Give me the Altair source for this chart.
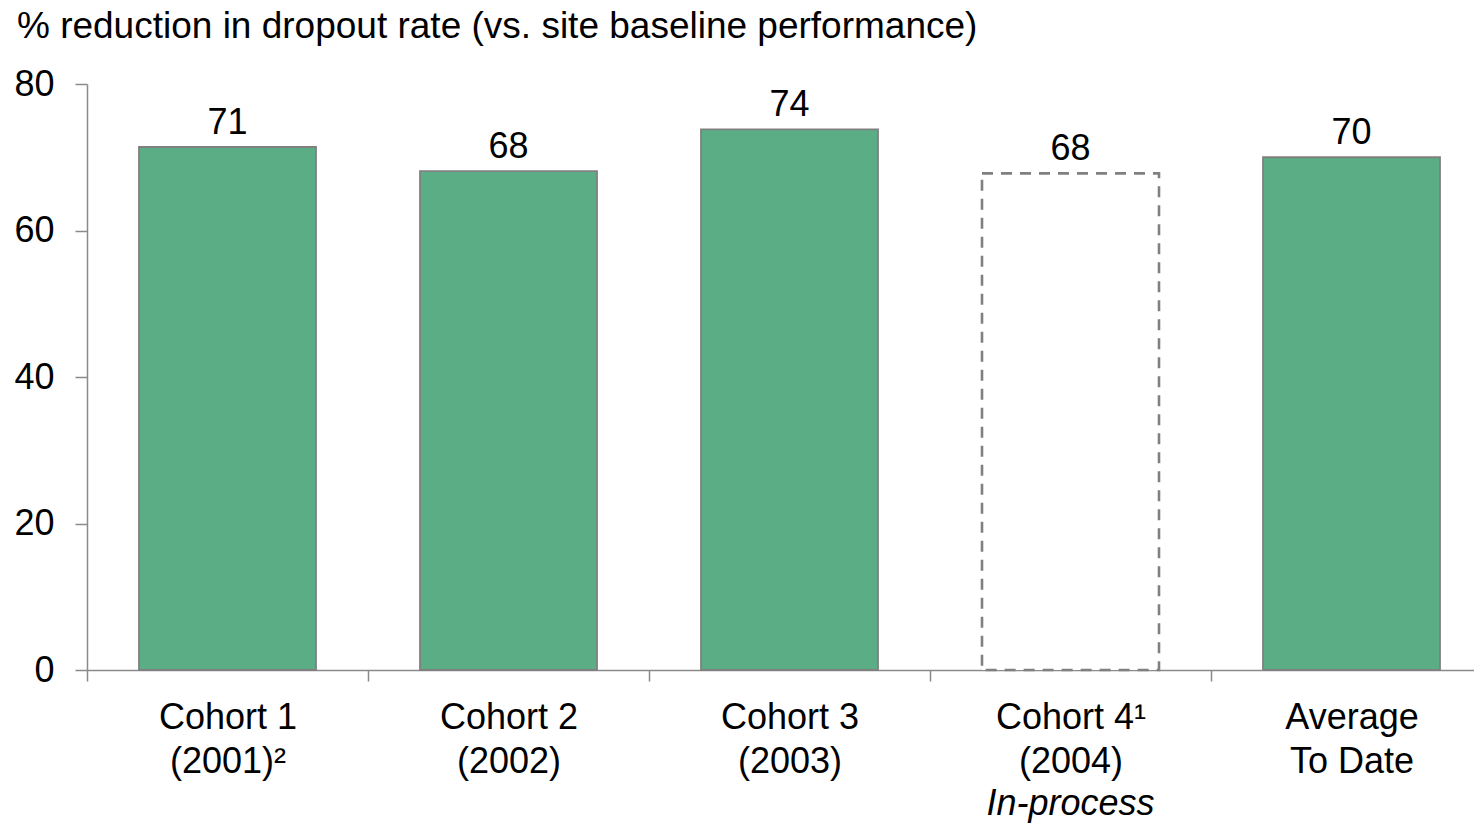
import altair as alt
import pandas as pd

categories = ["Cohort 1|(2001)²", "Cohort 2|(2002)", "Cohort 3|(2003)", "Cohort 4¹|(2004)", "Average|To Date"]
values = [71.4, 68.1, 73.8, 67.8, 70.0]
status = ["done", "done", "done", "in-process", "done"]
notes = ["", "", "", "In-process", ""]

df = pd.DataFrame({"cat": categories, "value": values, "status": status, "note": notes})

FONT = "Liberation Sans"
GRAY = "#8a8a8a"

x_enc = alt.X(
    "cat:N", sort=categories, title=None,
    scale=alt.Scale(range=[0, 1405], paddingInner=0, paddingOuter=0),
    axis=alt.Axis(
        labelExpr="split(datum.label, '|')", labelAngle=0, labelFontSize=36,
        labelLineHeight=44, labelColor="black", labelPadding=19, tickBand="extent",
        tickSize=11, tickColor=GRAY, domainColor=GRAY, domainWidth=1.5, tickWidth=1.5,
        labelFont=FONT,
    ),
)
y_enc = alt.Y(
    "value:Q", title=None,
    scale=alt.Scale(domain=[0, 80], nice=False),
    axis=alt.Axis(
        values=[0, 20, 40, 60, 80], grid=False, labelFontSize=36, labelColor="black",
        labelPadding=21, tickSize=12, tickColor=GRAY, domainColor=GRAY, domainWidth=1.5,
        tickWidth=1.5, labelFont=FONT,
    ),
)

base = alt.Chart(df).encode(x=x_enc, y=y_enc)

solid = base.transform_filter(alt.datum.status == "done").mark_bar(
    width=177, fill="#5aad84", stroke="#808080", strokeWidth=1.8
)
dashed = base.transform_filter(alt.datum.status == "in-process").mark_bar(
    width=177, fill="white", stroke="#808080", strokeWidth=2.6, strokeDash=[11, 8]
)
labels = base.mark_text(
    dy=-13, baseline="alphabetic", fontSize=36, font=FONT, color="black"
).encode(text=alt.Text("value:Q", format=".0f"))
note = alt.Chart(df).transform_filter(alt.datum.note != "").mark_text(
    baseline="alphabetic", fontSize=36, font=FONT, fontStyle="italic", color="black"
).encode(x=alt.X("cat:N", sort=categories), y=alt.value(731), text="note:N")

chart = alt.layer(solid, dashed, labels, note).properties(
    width=1387, height=586,
    autosize=alt.AutoSizeParams(type="none"),
    padding={"left": 79, "top": 76, "right": 0, "bottom": 153},
    title=alt.TitleParams(
        text="% reduction in dropout rate (vs. site baseline performance)",
        anchor="start", fontSize=37, font=FONT, fontWeight="normal", color="black",
        dx=3, dy=-16,
    ),
).configure_view(stroke=None)

chart.save("out.html", embed_options={"renderer": "svg", "actions": False})
